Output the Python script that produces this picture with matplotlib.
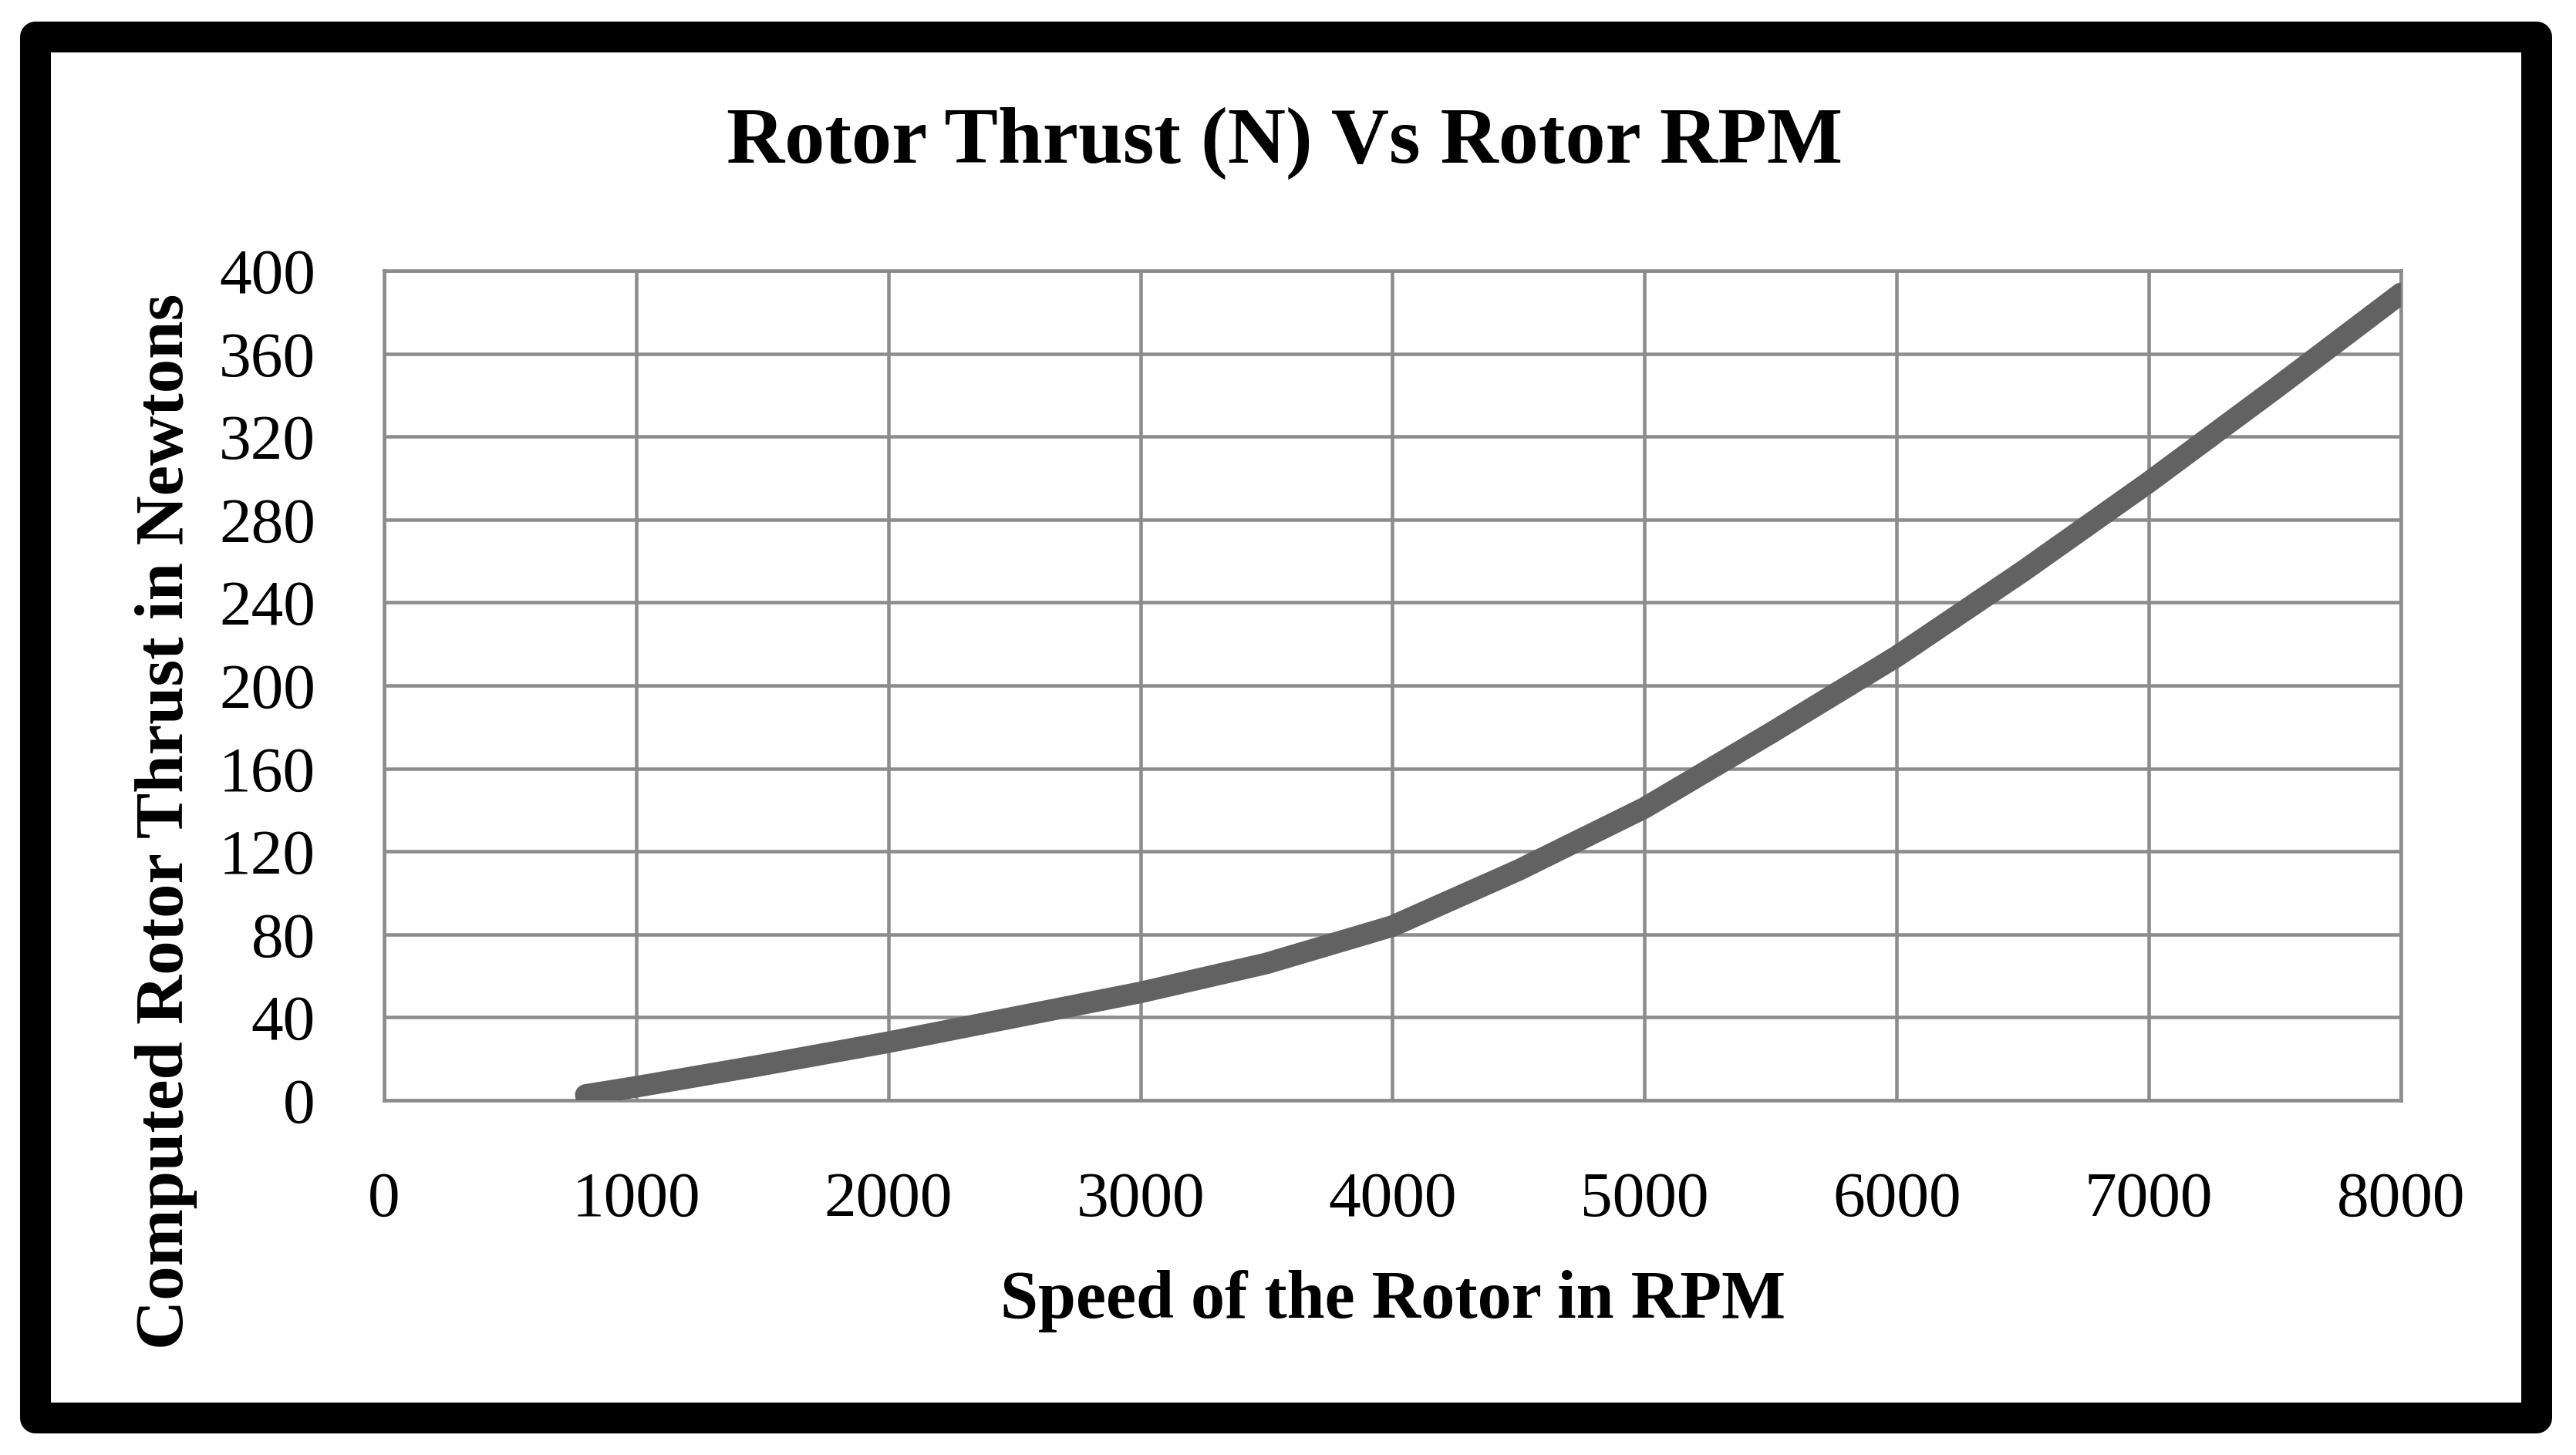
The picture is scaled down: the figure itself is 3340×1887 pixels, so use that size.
import matplotlib
matplotlib.use('Agg')
import matplotlib.pyplot as plt
from matplotlib.patches import Rectangle

# values
rpm = [800, 1000, 1500, 2000, 2500, 3000, 3500, 4000,
       4500, 5000, 5500, 6000, 6500, 7000, 7500, 8000]
thrust = [2.6, 6.5, 17, 28, 40, 52, 66, 84,
          111, 141, 177, 214, 255, 298, 343, 389]
x_ticks = [0, 1000, 2000, 3000, 4000, 5000, 6000, 7000, 8000]
y_ticks = [0, 40, 80, 120, 160, 200, 240, 280, 320, 360, 400]

title = 'Rotor Thrust (N) Vs Rotor RPM'
x_label = 'Speed of the Rotor in RPM'
y_label = 'Computed Rotor Thrust in Newtons'

plt.rcParams['font.family'] = ['Liberation Serif', 'DejaVu Serif']

DPI = 200
W, H = 3340, 1887
fig = plt.figure(figsize=(W / DPI, H / DPI), dpi=DPI)

def px(v):
    # pixels -> points
    return v * 72 / DPI

# black frame round the whole chart
frame = Rectangle((46 / W, 1 - 1839 / H), (3289 - 46) / W, (1839 - 48) / H,
                  transform=fig.transFigure, fill=False, edgecolor='black',
                  linewidth=px(40), joinstyle='round')
fig.patches.append(frame)

ax = fig.add_axes([498 / W, 1 - 1427 / H, (3113 - 498) / W, (1427 - 351) / H])

grid_c = '#8c8c8c'
ax.plot(rpm, thrust, color='#626262', linewidth=px(28),
        solid_capstyle='round', solid_joinstyle='round', zorder=3)

ax.set_xlim(0, 8000)
ax.set_ylim(0, 400)
ax.set_xticks(x_ticks)
ax.set_yticks(y_ticks)
ax.grid(True, color=grid_c, linewidth=px(4.5))
ax.set_axisbelow(True)
for s in ax.spines.values():
    s.set_color(grid_c)
    s.set_linewidth(px(4.5))

ax.tick_params(axis='both', length=0, labelsize=30, colors='black')
ax.tick_params(axis='x', pad=px(92))
ax.tick_params(axis='y', pad=px(89))

fig.text(1666 / W, 1 - 186 / H, title, ha='center', va='center',
         fontsize=37.5, fontweight='bold')
fig.text(1806 / W, 1 - 1687 / H, x_label, ha='center', va='center',
         fontsize=31.7, fontweight='bold')
fig.text(216 / W, 1 - 1065 / H, y_label, ha='center', va='center',
         rotation=90, fontsize=32, fontweight='bold')

fig.savefig('out.png', dpi=DPI, facecolor='white')
